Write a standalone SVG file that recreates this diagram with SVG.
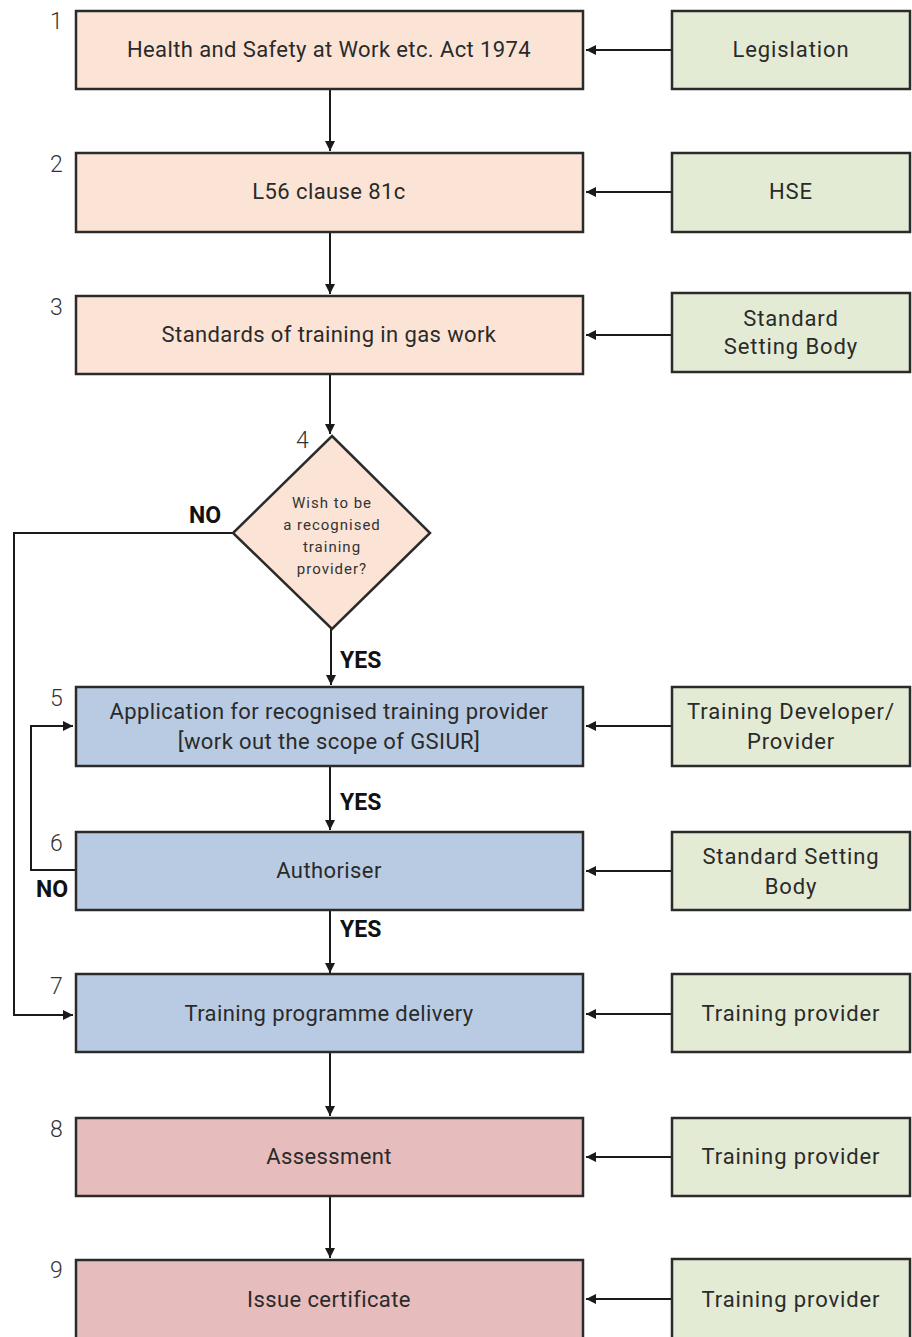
<svg xmlns="http://www.w3.org/2000/svg" width="912" height="1337" viewBox="0 0 912 1337">
<style>
.box{stroke:#2b2b2b;stroke-width:2.5}
.peach{fill:#fbe4d5}
.green{fill:#e3ebd5}
.blue{fill:#b9cbe2}
.pink{fill:#e7bcbc}
.t{font-family:Roboto,"Liberation Sans",sans-serif;font-size:22px;letter-spacing:0.4px;fill:#2a2a2a;text-anchor:middle}
.g{font-family:Roboto,"Liberation Sans",sans-serif;font-size:22px;letter-spacing:0.9px;fill:#2a2a2a;text-anchor:middle}
.d{font-family:Roboto,"Liberation Sans",sans-serif;font-size:15px;letter-spacing:1px;fill:#333;text-anchor:middle}
.n{font-family:Roboto,"Liberation Sans",sans-serif;font-size:23px;fill:#333;font-weight:300}
.b{font-family:Roboto,"Liberation Sans",sans-serif;font-size:23px;fill:#111;font-weight:bold}
.c{fill:none;stroke:#1a1a1a;stroke-width:2}
</style>
<defs>
<marker id="ah" viewBox="0 0 10 10" refX="10" refY="5" markerWidth="5" markerHeight="5" orient="auto" markerUnits="strokeWidth">
<path d="M0,0 L10,5 L0,10 z" fill="#1a1a1a"/>
</marker>
</defs>
<rect width="912" height="1337" fill="#fff"/>
<g id="connectors">
<line class="c" x1="330" y1="89" x2="330" y2="151" marker-end="url(#ah)"/>
<line class="c" x1="330" y1="232" x2="330" y2="294" marker-end="url(#ah)"/>
<line class="c" x1="330" y1="374" x2="330" y2="434" marker-end="url(#ah)"/>
<line class="c" x1="331" y1="629" x2="331" y2="685" marker-end="url(#ah)"/>
<line class="c" x1="330" y1="766" x2="330" y2="830" marker-end="url(#ah)"/>
<line class="c" x1="330" y1="910" x2="330" y2="973" marker-end="url(#ah)"/>
<line class="c" x1="330" y1="1052" x2="330" y2="1116" marker-end="url(#ah)"/>
<line class="c" x1="330" y1="1196" x2="330" y2="1258" marker-end="url(#ah)"/>
<polyline class="c" points="233,533 14,533 14,1015 73,1015" marker-end="url(#ah)"/>
<polyline class="c" points="76,870 31,870 31,726 73,726" marker-end="url(#ah)"/>
<line class="c" x1="672" y1="50" x2="586" y2="50" marker-end="url(#ah)"/>
<line class="c" x1="672" y1="192" x2="586" y2="192" marker-end="url(#ah)"/>
<line class="c" x1="672" y1="335" x2="586" y2="335" marker-end="url(#ah)"/>
<line class="c" x1="672" y1="726" x2="586" y2="726" marker-end="url(#ah)"/>
<line class="c" x1="672" y1="871" x2="586" y2="871" marker-end="url(#ah)"/>
<line class="c" x1="672" y1="1014" x2="586" y2="1014" marker-end="url(#ah)"/>
<line class="c" x1="672" y1="1157" x2="586" y2="1157" marker-end="url(#ah)"/>
<line class="c" x1="672" y1="1299" x2="586" y2="1299" marker-end="url(#ah)"/>
<text class="b" x="189" y="523">NO</text>
<text class="b" x="340" y="668">YES</text>
<text class="b" x="340" y="810">YES</text>
<text class="b" x="36" y="897">NO</text>
<text class="b" x="340" y="937">YES</text>
</g>
<g id="n1"><text class="n" x="50" y="29">1</text><rect class="box peach" x="76" y="11" width="507" height="78"/><text class="t" x="329" y="57">Health and Safety at Work etc. Act 1974</text></g>
<g id="g1"><rect class="box green" x="672" y="11" width="238" height="78"/><text class="g" x="791" y="57">Legislation</text></g>
<g id="n2"><text class="n" x="50" y="172">2</text><rect class="box peach" x="76" y="153" width="507" height="79"/><text class="t" x="329" y="199">L56 clause 81c</text></g>
<g id="g2"><rect class="box green" x="672" y="153" width="238" height="79"/><text class="g" x="791" y="199">HSE</text></g>
<g id="n3"><text class="n" x="50" y="315">3</text><rect class="box peach" x="76" y="296" width="507" height="78"/><text class="t" x="329" y="342">Standards of training in gas work</text></g>
<g id="g3"><rect class="box green" x="672" y="293" width="238" height="79"/><text class="g" x="791" y="326">Standard</text><text class="g" x="791" y="354">Setting Body</text></g>
<g id="n4"><text class="n" x="296" y="448">4</text><polygon class="box peach" points="332,436 430,533 332,629 233,533"/><text class="d" x="332" y="508">Wish to be</text><text class="d" x="332" y="530">a recognised</text><text class="d" x="332" y="552">training</text><text class="d" x="332" y="574">provider?</text></g>
<g id="n5"><text class="n" x="50" y="706">5</text><rect class="box blue" x="76" y="687" width="507" height="79"/><text class="t" x="329" y="719">Application for recognised training provider</text><text class="t" x="329" y="749">[work out the scope of GSIUR]</text></g>
<g id="g5"><rect class="box green" x="672" y="687" width="238" height="79"/><text class="g" x="791" y="719">Training Developer/</text><text class="g" x="791" y="749">Provider</text></g>
<g id="n6"><text class="n" x="50" y="851">6</text><rect class="box blue" x="76" y="832" width="507" height="78"/><text class="t" x="329" y="878">Authoriser</text></g>
<g id="g6"><rect class="box green" x="672" y="832" width="238" height="78"/><text class="g" x="791" y="864">Standard Setting</text><text class="g" x="791" y="894">Body</text></g>
<g id="n7"><text class="n" x="50" y="994">7</text><rect class="box blue" x="76" y="974" width="507" height="78"/><text class="t" x="329" y="1021">Training programme delivery</text></g>
<g id="g7"><rect class="box green" x="672" y="974" width="238" height="78"/><text class="g" x="791" y="1021">Training provider</text></g>
<g id="n8"><text class="n" x="50" y="1137">8</text><rect class="box pink" x="76" y="1118" width="507" height="78"/><text class="t" x="329" y="1164">Assessment</text></g>
<g id="g8"><rect class="box green" x="672" y="1118" width="238" height="78"/><text class="g" x="791" y="1164">Training provider</text></g>
<g id="n9"><text class="n" x="50" y="1278">9</text><rect class="box pink" x="76" y="1260" width="507" height="90"/><text class="t" x="329" y="1307">Issue certificate</text></g>
<g id="g9"><rect class="box green" x="672" y="1259" width="238" height="90"/><text class="g" x="791" y="1307">Training provider</text></g>
</svg>
